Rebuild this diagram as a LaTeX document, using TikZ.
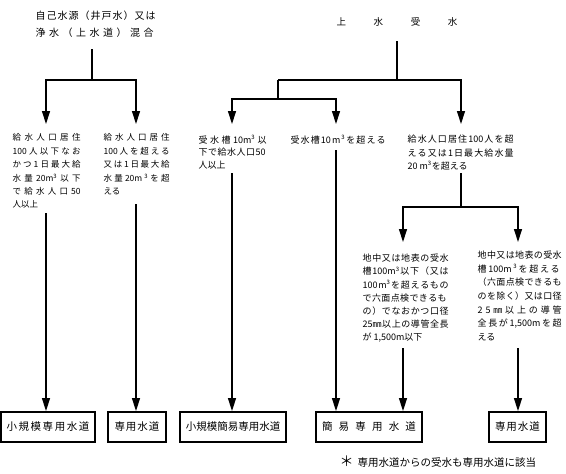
\documentclass[tikz,border=0pt]{standalone}
\usepackage{fontspec}
\setmainfont{Noto Sans CJK JP}
\usetikzlibrary{arrows.meta}
\newcommand\jl[2]{\hbox to #1{\spaceskip=0pt plus 1fil\relax #2}}
\begin{document}
\begin{tikzpicture}[x=1pt,y=-1pt,line width=1.3pt,
  arr/.style={-{Triangle[length=13pt,width=8pt]}},
  txt/.style={anchor=north west,inner sep=0pt,align=left},
  fa/.style={font=\fontsize{8.5}{13.4}\selectfont},
  fb/.style={font=\fontsize{9}{13.2}\selectfont},
  outbox/.style={draw,line width=1.9pt,minimum height=30pt,inner sep=0pt,font=\fontsize{10.5}{12}\selectfont}]
\useasboundingbox (0,0) rectangle (566,474);
% titles
\node[txt,font=\fontsize{10}{17}\selectfont] (T1) at (35,10)
  {\jl{120pt}{自 己 水 源 （ 井 戸 水 ） 又 は}\\ \jl{118pt}{浄 水 （ 上 水 道 ） 混 合}};
\node[inner sep=0pt,font=\fontsize{9.5}{12}\selectfont] (T2) at (397,22) {\jl{121pt}{上 水 受 水}};
% condition texts
\node[txt,fa] (t1) at (12,133)
  {\jl{68pt}{給 水 人 口 居 住}\\
   \jl{68pt}{100 人 以 下 な お}\\
   \jl{68pt}{か つ 1 日 最 大 給}\\
   \jl{68pt}{水 量 20m\textsuperscript{3} 以 下}\\
   \jl{68pt}{で 給 水 人 口 50}\\
   人以上};
\node[txt,fa] (t2) at (103,133)
  {\jl{66pt}{給 水 人 口 居 住}\\
   \jl{66pt}{100 人 を 超 え る}\\
   \jl{66pt}{又 は 1 日 最 大 給}\\
   \jl{66pt}{水 量 20m \textsuperscript{3} を 超}\\
   える};
\node[txt,font=\fontsize{9}{12.6}\selectfont] (t3) at (198,134.5)
  {\jl{68pt}{受 水 槽 10m\textsuperscript{3} 以}\\
   \jl{67pt}{下 で 給 水 人 口 50}\\
   人以上};
\node[txt,fb] (t4) at (290,134.5)
  {\jl{95pt}{受 水 槽 10 m \textsuperscript{3} を 超 え る}};
\node[txt,font=\fontsize{9}{13.5}\selectfont] (t5) at (407,134.5)
  {\jl{106pt}{給 水 人 口 居 住 100 人 を 超}\\
   \jl{106pt}{え る 又 は 1 日 最 大 給 水 量}\\
   20 m\textsuperscript{3}を超える};
\node[txt,fb] (t6) at (362,253.5)
  {\jl{86pt}{地 中 又 は 地 表 の 受 水}\\
   \jl{86pt}{槽 100m\textsuperscript{3} 以 下 （ 又 は}\\
   \jl{86pt}{100 m\textsuperscript{3} を 超 え る も の}\\
   \jl{84pt}{で 六 面 点 検 で き る も}\\
   \jl{86pt}{の ） で な お か つ 口 径}\\
   \jl{86pt}{25㎜ 以 上 の 導 管 全 長}\\
   が 1,500m以下};
\node[txt,font=\fontsize{9}{13.6}\selectfont] (t7) at (477,250.5)
  {\jl{84pt}{地 中 又 は 地 表 の 受 水}\\
   \jl{82pt}{槽 100m \textsuperscript{3} を 超 え る}\\
   \jl{84pt}{（ 六 面 点 検 で き る も}\\
   \jl{84pt}{の を 除 く ） 又 は 口 径}\\
   \jl{84pt}{2 5 ㎜ 以 上 の 導 管}\\
   \jl{84pt}{全 長 が 1,500m を 超}\\
   える};
% result boxes
\node[outbox,minimum width=94pt] (b1) at (48,427) {\jl{83pt}{小 規 模 専 用 水 道}};
\node[outbox,minimum width=58pt] (b2) at (137,427) {\jl{45pt}{専 用 水 道}};
\node[outbox,minimum width=106pt] (b3) at (233,427) {小規模簡易専用水道};
\node[outbox,minimum width=106pt] (b4) at (369,427) {\jl{94pt}{簡 易 専 用 水 道}};
\node[outbox,minimum width=57pt] (b5) at (517.5,427) {\jl{45pt}{専 用 水 道}};
\node[anchor=west,inner sep=0pt,font=\fontsize{10.5}{12}\selectfont] (N) at (339,462) {{\fontsize{14}{12}\selectfont ＊}\hspace{4pt}専用水道からの受水も専用水道に該当};
% coordinates
\coordinate (s1) at (92,49);
\coordinate (j1) at (92,80);
\coordinate (p1) at (46,124);
\coordinate (p2) at (136,124);
\coordinate (s2) at (397,41);
\coordinate (j2) at (397,80);
\coordinate (j3) at (278,80);
\coordinate (j4) at (278,99);
\coordinate (p3) at (232,124);
\coordinate (p4) at (336,124);
\coordinate (p5) at (461,124);
\coordinate (s5) at (461,173);
\coordinate (j5) at (461,207);
\coordinate (p6) at (403,242);
\coordinate (p7) at (518,242);
\coordinate (c1) at (46,213);
\coordinate (c2) at (136,204);
\coordinate (c3) at (232,173);
\coordinate (c4) at (336,150);
\coordinate (c6) at (403,348);
\coordinate (c7) at (518,348);
% connectors
\draw (s1) -- (j1);
\draw[arr] (j1) -| (p1);
\draw[arr] (j1) -| (p2);
\draw (s2) -- (j2);
\draw (j3) -- (j2);
\draw[arr] (j2) -| (p5);
\draw (j3) -- (j4);
\draw[arr] (j4) -| (p3);
\draw[arr] (j4) -| (p4);
\draw (s5) -- (j5);
\draw[arr] (j5) -| (p6);
\draw[arr] (j5) -| (p7);
\draw[arr] (c1) -- (c1 |- b1.north);
\draw[arr] (c2) -- (c2 |- b2.north);
\draw[arr] (c3) -- (c3 |- b3.north);
\draw[arr] (c4) -- (c4 |- b4.north);
\draw[arr] (c6) -- (c6 |- b4.north);
\draw[arr] (c7) -- (c7 |- b5.north);
\end{tikzpicture}
\end{document}
